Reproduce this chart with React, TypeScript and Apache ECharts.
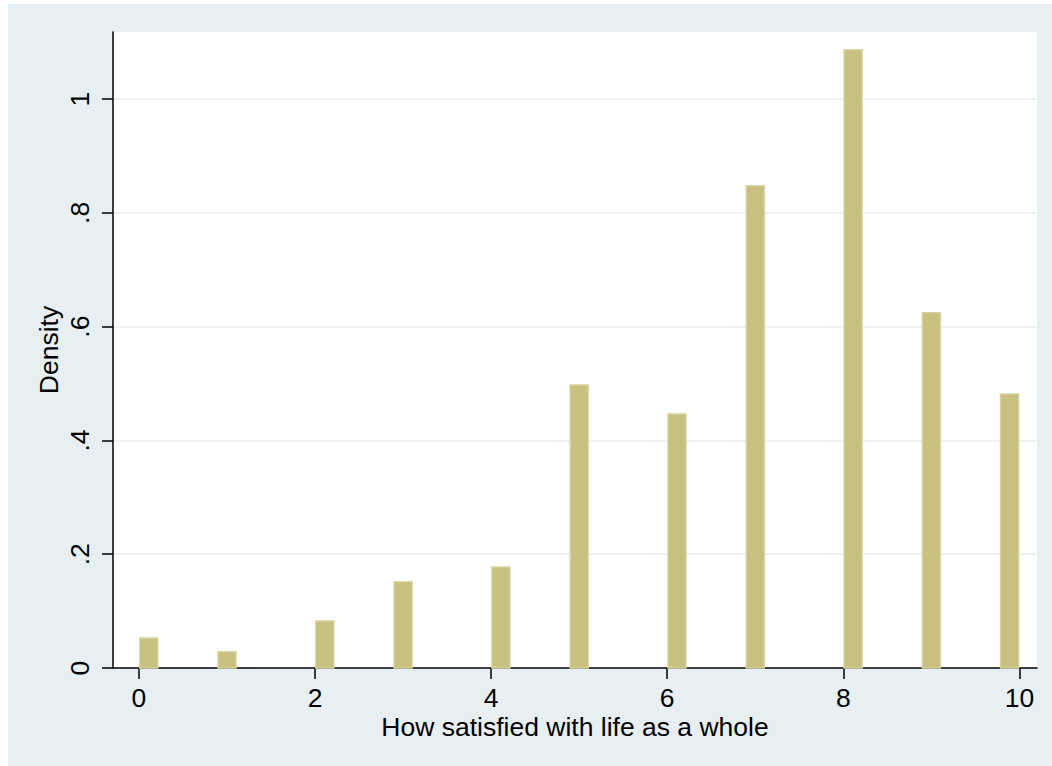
import React, { useEffect, useRef } from 'react';
import * as echarts from 'echarts';

const scores = [0, 1, 2, 3, 4, 5, 6, 7, 8, 9, 10];
const densities = [0.054, 0.03, 0.084, 0.153, 0.179, 0.499, 0.448, 0.849, 1.088, 0.626, 0.483];
const xTickValues = [0, 2, 4, 6, 8, 10];
const yTickValues = [0, 0.2, 0.4, 0.6, 0.8, 1];
const yTickLabels = ['0', '.2', '.4', '.6', '.8', '1'];
const xTitle = 'How satisfied with life as a whole';
const yTitle = 'Density';
const binCount = 45;
const rangeMin = 0;
const rangeMax = 10;

const FONT = '"Liberation Sans", Arial, sans-serif';
const FS = 26.5;

export default function App() {
  const ref = useRef<HTMLDivElement>(null);
  useEffect(() => {
    const chart = echarts.init(ref.current!, null, { renderer: 'svg' });
    const w = (rangeMax - rangeMin) / binCount;
    const data = scores.map((s, i) => {
      const k = Math.min(Math.floor((s - rangeMin) / w + 1e-9), binCount - 1);
      return [rangeMin + k * w, rangeMin + (k + 1) * w, densities[i]];
    });
    const findLabel = (v: number) => {
      const idx = yTickValues.findIndex((t) => Math.abs(t - v) < 1e-9);
      return idx >= 0 ? yTickLabels[idx] : '';
    };
    chart.setOption({
      animation: false,
      backgroundColor: '#E8EFF2',
      textStyle: { fontFamily: FONT },
      grid: {
        left: 105,
        top: 28,
        right: 15,
        bottom: 98,
        show: true,
        backgroundColor: '#FFFFFF',
        borderWidth: 0,
        containLabel: false,
      },
      xAxis: {
        type: 'value',
        min: -0.295,
        max: 10.2,
        name: xTitle,
        nameLocation: 'middle',
        nameGap: 45,
        nameMoveOverlap: false,
        nameTextStyle: { fontSize: FS, color: '#000', fontFamily: FONT },
        axisLine: { show: true, onZero: false, lineStyle: { color: '#000', width: 1.5 } },
        axisTick: { show: true, length: 11, customValues: xTickValues, lineStyle: { color: '#000', width: 1.5 } },
        axisLabel: {
          customValues: xTickValues,
          fontSize: FS,
          color: '#000',
          margin: 16,
          fontFamily: FONT,
          showMinLabel: true,
          showMaxLabel: true,
        },
        splitLine: { show: false },
      },
      yAxis: {
        type: 'value',
        min: 0,
        max: 1.118,
        interval: 0.2,
        name: yTitle,
        nameLocation: 'middle',
        nameGap: 51,
        nameRotate: 90,
        nameMoveOverlap: false,
        nameTextStyle: { fontSize: FS, color: '#000', fontFamily: FONT },
        axisLine: { show: true, onZero: false, lineStyle: { color: '#000', width: 1.5 } },
        axisTick: { show: true, length: 11, customValues: yTickValues, lineStyle: { color: '#000', width: 1.5 } },
        axisLabel: {
          customValues: yTickValues,
          rotate: 90,
          fontSize: FS,
          color: '#000',
          margin: 20,
          fontFamily: FONT,
          formatter: (v: number) => findLabel(v),
        },
        splitLine: {
          show: true,
          showMinLine: false,
          lineStyle: { color: '#E6EDF0', width: 1.5 },
        },
      },
      series: [
        {
          type: 'custom',
          encode: { x: [0, 1], y: 2 },
          data,
          renderItem: (params: any, api: any) => {
            const p0 = api.coord([api.value(0), api.value(2)]);
            const p1 = api.coord([api.value(1), 0]);
            const inset = 0.75;
            return {
              type: 'rect',
              shape: {
                x: p0[0] + inset,
                y: p0[1] + inset,
                width: p1[0] - p0[0] - 2 * inset,
                height: p1[1] - p0[1] - inset,
              },
              style: { fill: '#C8C07E', stroke: '#D8D3A0', lineWidth: 1.5 },
            };
          },
        },
      ],
    });
    return () => chart.dispose();
  }, []);
  return (
    <div
      ref={ref}
      style={{ position: 'absolute', left: 8, top: 4, width: 1044, height: 762 }}
    />
  );
}
